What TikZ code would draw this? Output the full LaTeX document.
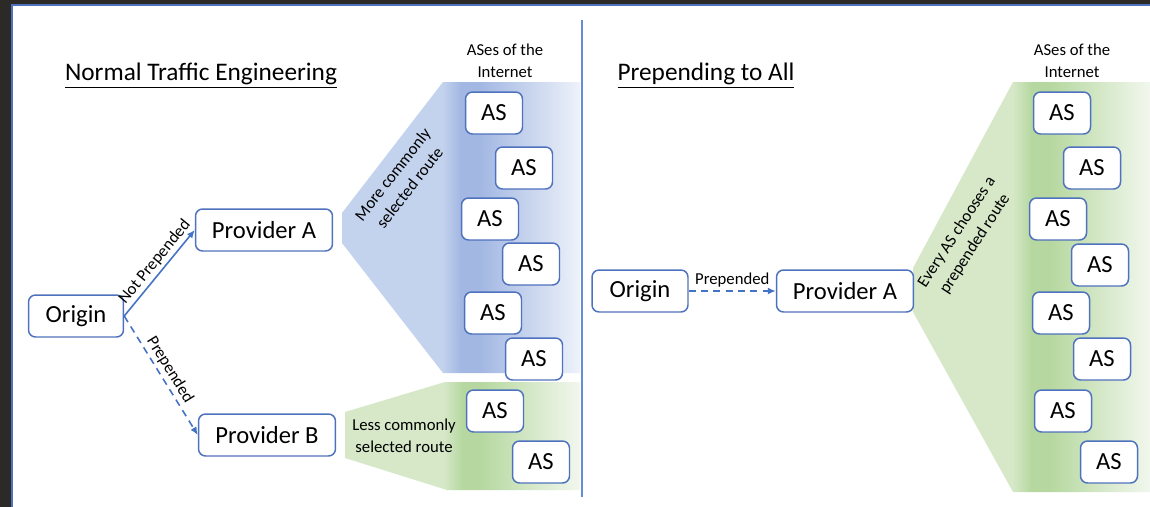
\documentclass[tikz,border=0pt]{standalone}
\usepackage{fontspec}
\setmainfont{Carlito}
\usetikzlibrary{arrows.meta,positioning}
\definecolor{rand}{RGB}{79,114,190}
\definecolor{pil}{RGB}{68,114,196}
\definecolor{keret}{RGB}{43,42,39}
\definecolor{valaszto}{RGB}{100,140,215}
\definecolor{fanblue}{RGB}{196,211,237}
\definecolor{fanbluedark}{RGB}{162,183,226}
\definecolor{fanbluepale}{RGB}{238,242,250}
\definecolor{fangreen}{RGB}{214,232,200}
\definecolor{fangreendark}{RGB}{182,216,160}
\definecolor{fangreenpale}{RGB}{242,247,238}
\pgfdeclarehorizontalshading{bluefan}{100bp}{color(0bp)=(fanblue); color(46bp)=(fanblue);
  color(50bp)=(fanbluedark); color(54bp)=(fanbluedark); color(75bp)=(fanbluepale); color(100bp)=(fanbluepale)}
\pgfdeclarehorizontalshading{greenfan}{100bp}{color(0bp)=(fangreen); color(46bp)=(fangreen);
  color(50bp)=(fangreendark); color(54bp)=(fangreendark); color(75bp)=(fangreenpale); color(100bp)=(fangreenpale)}
\tikzset{
  box/.style={draw=rand,line width=0.85pt,rounded corners=4pt,fill=white,minimum height=0.84cm,
              inner sep=2pt,font=\fontsize{14}{16}\selectfont},
  asbox/.style={box,minimum width=1.14cm},
  arr/.style={-{Latex[length=1.6mm,width=1.4mm]},draw=pil,line width=0.9pt},
  darr/.style={arr,dash pattern=on 4pt off 3pt},
  lbl/.style={font=\fontsize{9.5}{12.3}\selectfont,align=center,inner sep=1.5pt},
  title/.style={font=\fontsize{14.4}{16}\selectfont},
}
\begin{document}
\begin{tikzpicture}[x=0.02cm,y=-0.02cm]
  \useasboundingbox (0,0) rectangle (1150,507);
  \fill[keret] (0,0) rectangle (1150,507);
  \fill[white] (12,5) rectangle (1150,507);
  \draw[rand,line width=0.8pt] (12,507) -- (12,5) -- (1150,5);
  \draw[valaszto,line width=1.2pt] (582,20) -- (582,497);

  % left half
  \shade[shading=bluefan] (443,82) -- (342,213) -- (342,243) -- (443,373) -- (580,373) -- (580,82) -- cycle;
  \shade[shading=greenfan] (445,382) -- (345,412) -- (345,458) -- (447,490) -- (580,490) -- (580,382) -- cycle;
  \node[title] (t1) at (201,76) {\underline{Normal Traffic Engineering}};
  \node[lbl] (net1) at (505,61) {ASes of the\\Internet};
  \node[box,minimum width=1.9cm] (ori) at (76,316) {Origin};
  \node[box,minimum width=2.74cm] (provA) at (264,230) {Provider A};
  \node[box,minimum width=2.74cm] (provB) at (267,435) {Provider B};
  \draw[arr] (ori.east) -- node[lbl,sloped,above,pos=0.55] {Not Prepended} (provA.west);
  \draw[darr] (ori.east) -- node[lbl,sloped,above] {Prepended} (provB.west);
  \node[lbl,rotate=52] (more) at (401,181) {More commonly\\selected route};
  \node[lbl] (less) at (404,436) {Less commonly\\selected route};
  \node[asbox] (l1) at (494,113) {AS};
  \node[asbox] (l2) at (524,168) {AS};
  \node[asbox] (l3) at (490,219) {AS};
  \node[asbox] (l4) at (531,264) {AS};
  \node[asbox] (l5) at (493,313) {AS};
  \node[asbox] (l6) at (534,359) {AS};
  \node[asbox] (l7) at (495,411) {AS};
  \node[asbox] (l8) at (541,462) {AS};

  % right half
  \shade[shading=greenfan] (1013,82) -- (913,268) -- (913,312) -- (1013,492) -- (1150,492) -- (1150,82) -- cycle;
  \node[title] (t2) at (706,76) {\underline{Prepending to All}};
  \node[lbl] (net2) at (1072,61) {ASes of the\\Internet};
  \node[box,minimum width=1.92cm] (ori2) at (640,291) {Origin};
  \node[box,minimum width=2.74cm] (provA2) at (845,291) {Provider A};
  \draw[darr] (ori2) -- node[lbl,above] {Prepended} (provA2);
  \node[lbl,rotate=57] (every) at (966,238) {Every AS chooses a\\prepended route};
  \node[asbox] (r1) at (1062,113) {AS};
  \node[asbox] (r2) at (1092,168) {AS};
  \node[asbox] (r3) at (1058,219) {AS};
  \node[asbox] (r4) at (1100,265) {AS};
  \node[asbox] (r5) at (1061,313) {AS};
  \node[asbox] (r6) at (1102,359) {AS};
  \node[asbox] (r7) at (1063,411) {AS};
  \node[asbox] (r8) at (1109,462) {AS};
\end{tikzpicture}
\end{document}
